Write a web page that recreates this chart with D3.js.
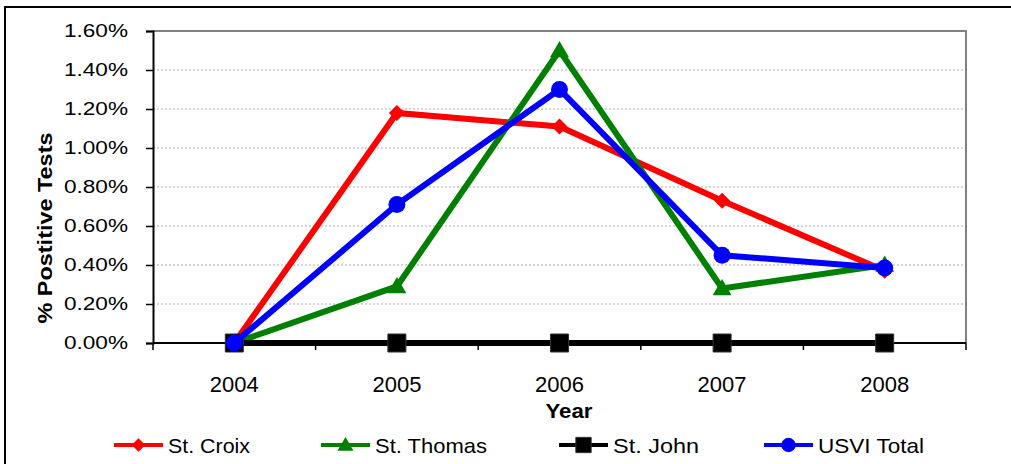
<!DOCTYPE html>
<html>
<head>
<meta charset="utf-8">
<script src="https://cdn.jsdelivr.net/npm/d3@7"></script>
<style>
  html, body { margin: 0; padding: 0; background: #fff; }
  svg { display: block; }
</style>
</head>
<body>
<script>
// Percent of positive tests by island, 2004–2008
const years = ["2004", "2005", "2006", "2007", "2008"];
const stCroix = [0.0, 1.18, 1.11, 0.73, 0.37];
const stThomas = [0.0, 0.29, 1.50, 0.28, 0.40];
const stJohn = [0.0, 0.0, 0.0, 0.0, 0.0];
const usviTotal = [0.0, 0.71, 1.30, 0.45, 0.385];
const yTicks = [0, 0.2, 0.4, 0.6, 0.8, 1.0, 1.2, 1.4, 1.6];

const seriesList = [
  { name: "St. Croix", values: stCroix, color: "#ff0000", marker: "diamond" },
  { name: "St. Thomas", values: stThomas, color: "#008000", marker: "triangle" },
  { name: "St. John", values: stJohn, color: "#000000", marker: "square" },
  { name: "USVI Total", values: usviTotal, color: "#0000ff", marker: "circle" }
];

const W = 1011, H = 464;
const plot = { left: 153, top: 31, right: 966, bottom: 343 };
const FONT = "'Liberation Sans', Arial, sans-serif";

const svg = d3.select("body").append("svg")
  .attr("width", W).attr("height", H)
  .style("font-family", FONT);

// chart frame
svg.append("rect")
  .attr("x", 5).attr("y", 7).attr("width", W + 10).attr("height", H + 10)
  .attr("fill", "#fff").attr("stroke", "#000").attr("stroke-width", 2);

const x = d3.scaleBand().domain(years).range([plot.left, plot.right]).padding(0);
const y = d3.scaleLinear().domain([0, 1.6]).range([plot.bottom, plot.top]);

// gridlines
svg.append("g").selectAll("line")
  .data(yTicks.filter(t => t > 0 && t < 1.6))
  .join("line")
  .attr("x1", plot.left).attr("x2", plot.right)
  .attr("y1", d => y(d)).attr("y2", d => y(d))
  .attr("stroke", "#b0b0b0").attr("stroke-width", 1.2)
  .attr("stroke-dasharray", "2,2");

// plot-area top/right border
svg.append("path")
  .attr("d", `M${plot.left},${plot.top}H${plot.right}V${plot.bottom}`)
  .attr("fill", "none").attr("stroke", "#808080").attr("stroke-width", 2);

// y axis
const yAxis = d3.axisLeft(y).tickValues(yTicks)
  .tickFormat(d => d.toFixed(2) + "%").tickSize(7).tickPadding(18);
const gy = svg.append("g").attr("transform", `translate(${plot.left},0)`).call(yAxis);
gy.select(".domain").attr("stroke", "#000").attr("stroke-width", 2);
gy.selectAll(".tick line").attr("stroke", "#000").attr("stroke-width", 1.5);
gy.selectAll(".tick text").attr("font-size", 18).attr("fill", "#000")
  .attr("textLength", 64).attr("lengthAdjust", "spacingAndGlyphs")
  .style("font-family", FONT);

// x axis with ticks between categories
const gx = svg.append("g").attr("transform", `translate(0,${plot.bottom})`);
gx.append("line").attr("x1", plot.left).attr("x2", plot.right)
  .attr("stroke", "#000").attr("stroke-width", 2);
const boundaries = years.map(d => x(d)).concat([plot.right]);
gx.selectAll("line.tk").data(boundaries).join("line").attr("class", "tk")
  .attr("x1", d => d).attr("x2", d => d).attr("y1", 0).attr("y2", 7)
  .attr("stroke", "#000").attr("stroke-width", 1.5);
gx.selectAll("text").data(years).join("text")
  .attr("x", d => x(d) + x.bandwidth() / 2).attr("y", 49)
  .attr("text-anchor", "middle").attr("font-size", 22).attr("fill", "#000")
  .text(d => d);

// axis titles
svg.append("text")
  .attr("x", 569).attr("y", 418)
  .attr("text-anchor", "middle").attr("font-size", 20).attr("font-weight", "bold")
  .attr("textLength", 47).attr("lengthAdjust", "spacingAndGlyphs")
  .text("Year");
svg.append("text")
  .attr("transform", `translate(52,228) rotate(-90)`)
  .attr("text-anchor", "middle").attr("font-size", 20).attr("font-weight", "bold")
  .attr("textLength", 191).attr("lengthAdjust", "spacingAndGlyphs")
  .text("% Postitive Tests");

function markerPath(type, s) {
  if (type === "diamond") return `M0,${-s}L${s},0L0,${s}L${-s},0Z`;
  if (type === "triangle") return `M0,${-s * 1.05}L${s * 1.05},${s * 0.75}L${-s * 1.05},${s * 0.75}Z`;
  if (type === "square") return `M${-s},${-s}H${s}V${s}H${-s}Z`;
  return null;
}
const markerSize = { diamond: 8, triangle: 9, square: 9, circle: 8.5 };

function drawMarker(g, type, color, cx, cy, scale) {
  const s = markerSize[type] * scale;
  if (type === "circle") {
    g.append("circle").attr("cx", cx).attr("cy", cy).attr("r", s).attr("fill", color);
  } else {
    g.append("path").attr("d", markerPath(type, s))
      .attr("transform", `translate(${cx},${cy})`).attr("fill", color)
      .attr("stroke", type === "square" ? "#333" : "none").attr("stroke-width", 1);
  }
}

const line = d3.line()
  .x((d, i) => x(years[i]) + x.bandwidth() / 2)
  .y(d => y(d));

seriesList.forEach(s => {
  const g = svg.append("g");
  g.append("path").datum(s.values).attr("d", line)
    .attr("fill", "none").attr("stroke", s.color).attr("stroke-width", 6)
    .attr("stroke-linejoin", "miter");
  s.values.forEach((v, i) => {
    drawMarker(g, s.marker, s.color, x(years[i]) + x.bandwidth() / 2, y(v), 1);
  });
});

// legend
const legendX = [114, 321, 559, 764];
const legendTextW = [82, 112, 86, 106];
const legendY = 445;
seriesList.forEach((s, i) => {
  const g = svg.append("g");
  const x0 = legendX[i];
  g.append("line").attr("x1", x0).attr("x2", x0 + 49)
    .attr("y1", legendY).attr("y2", legendY)
    .attr("stroke", s.color).attr("stroke-width", 4);
  drawMarker(g, s.marker, s.color, x0 + 24.5, legendY, 0.85);
  g.append("text").attr("x", x0 + 54).attr("y", legendY + 8)
    .attr("font-size", 21).attr("fill", "#000")
    .attr("textLength", legendTextW[i]).attr("lengthAdjust", "spacingAndGlyphs")
    .text(s.name);
});
</script>
</body>
</html>
